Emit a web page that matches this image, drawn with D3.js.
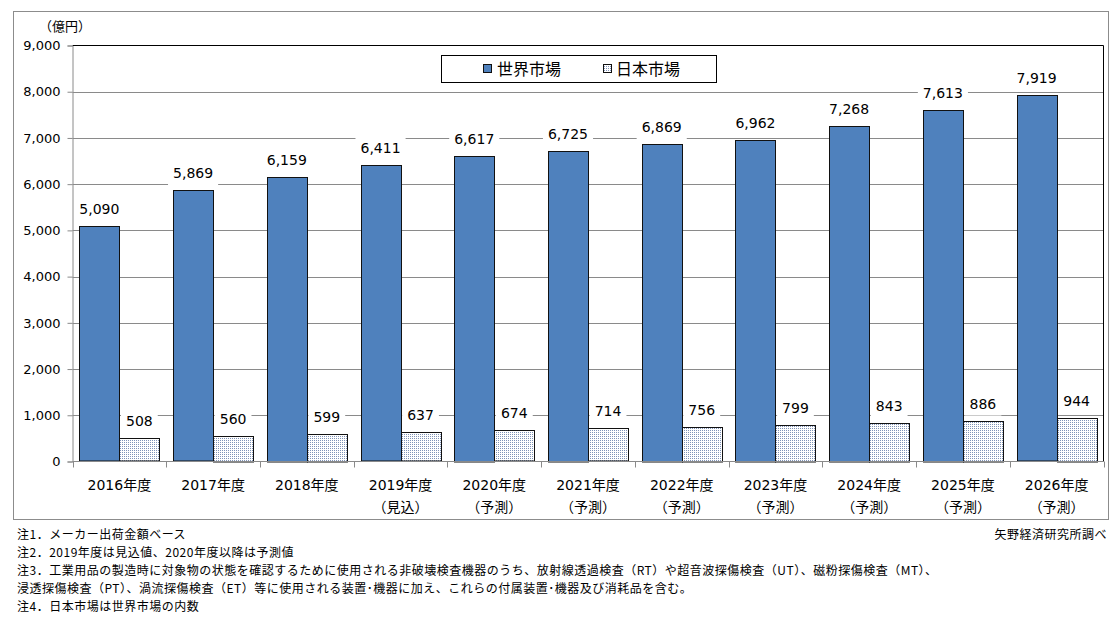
<!DOCTYPE html>
<html><head><meta charset="utf-8">
<script src="https://cdn.jsdelivr.net/npm/d3@7"></script>
<style>
body{margin:0;background:#fff;}
svg{display:block;}
text{font-family:"DejaVu Sans","Noto Sans CJK JP",sans-serif;fill:#000;}
.note{font-family:"Noto Sans CJK JP",sans-serif;font-size:12px;letter-spacing:0.5px;}
</style></head>
<body>
<script>
const categories = ["2016年度","2017年度","2018年度","2019年度","2020年度","2021年度","2022年度","2023年度","2024年度","2025年度","2026年度"];
const subLabels = ["","","","（見込）","（予測）","（予測）","（予測）","（予測）","（予測）","（予測）","（予測）"];
const worldValues = [5090,5869,6159,6411,6617,6725,6869,6962,7268,7613,7919];
const japanValues = [508,560,599,637,674,714,756,799,843,886,944];
const seriesNames = ["世界市場","日本市場"];
const yTicks = [0,1000,2000,3000,4000,5000,6000,7000,8000,9000];
const unitLabel = "（億円）";
const notes = [
  "注1．メーカー出荷金額ベース",
  "注2．2019年度は見込値、2020年度以降は予測値",
  "注3．工業用品の製造時に対象物の状態を確認するために使用される非破壊検査機器のうち、放射線透過検査（RT）や超音波探傷検査（UT）、磁粉探傷検査（MT）、",
  "浸透探傷検査（PT）、渦流探傷検査（ET）等に使用される装置･機器に加え、これらの付属装置･機器及び消耗品を含む。",
  "注4．日本市場は世界市場の内数"
];
const source = "矢野経済研究所調べ";

const W=1119,H=635;
const svg=d3.select("body").append("svg").attr("width",W).attr("height",H);
const defs=svg.append("defs");
const pat=defs.append("pattern").attr("id","dots").attr("width",2).attr("height",2).attr("patternUnits","userSpaceOnUse");
pat.append("rect").attr("width",2).attr("height",2).attr("fill","#ffffff");
pat.append("rect").attr("width",1).attr("height",1).attr("fill","#7f93b8");

// outer border
svg.append("rect").attr("x",13.5).attr("y",11.5).attr("width",1095).attr("height",508)
  .attr("fill","none").attr("stroke","#8c8c8c");

const L=72.5,R=1103.5,T=45.5,B=461.5;
const x=d3.scaleBand().domain(categories).range([L,R]).paddingInner(0.146).paddingOuter(0.073);
const x1=d3.scaleBand().domain(["w","j"]).range([0,x.bandwidth()]);
const y=d3.scaleLinear().domain([0,9000]).range([B,T]);

// gridlines
svg.append("g").selectAll("line").data(yTicks.filter(d=>d>0&&d<9000)).join("line")
  .attr("x1",L).attr("x2",R).attr("y1",d=>Math.round(y(d))+0.5).attr("y2",d=>Math.round(y(d))+0.5)
  .attr("stroke","#8a8a8a");

// label backgrounds layer (below bars, above gridlines)
const labBg=svg.append("g");

// top and right border of plot (black)
svg.append("path").attr("d",`M${L},${T}H${R}V${B}`).attr("fill","none").attr("stroke","#000");

// y axis
const yAxis=svg.append("g").attr("transform",`translate(${L},0)`)
  .call(d3.axisLeft(y).tickValues(yTicks).tickFormat(d3.format(",")).tickSize(5).tickPadding(7));
yAxis.select(".domain").attr("stroke","#8a8a8a");
yAxis.selectAll(".tick line").attr("stroke","#8a8a8a");
yAxis.selectAll("text").attr("font-size","13px").attr("font-family",'"DejaVu Sans",sans-serif').attr("fill","#000");

svg.append("text").attr("x",65).attr("y",31).attr("text-anchor","middle").attr("font-size","13px").text(unitLabel);

// bars
const g=svg.append("g");
categories.forEach((c,i)=>{
  const bx=x(c);
  g.append("rect").attr("x",Math.round(bx+x1("w"))+0.5).attr("y",Math.round(y(worldValues[i]))+0.5)
    .attr("width",Math.round(x1.bandwidth())).attr("height",Math.round(B-y(worldValues[i]))-0.5)
    .attr("fill","#4f81bd").attr("stroke","#111");
  g.append("rect").attr("x",Math.round(bx+x1("j"))+0.5).attr("y",Math.round(y(japanValues[i]))+0.5)
    .attr("width",Math.round(x1.bandwidth())).attr("height",Math.round(B-y(japanValues[i]))-0.5)
    .attr("fill","url(#dots)").attr("stroke","#111");
});

// x axis
svg.append("line").attr("x1",L).attr("x2",R).attr("y1",B).attr("y2",B).attr("stroke","#8a8a8a");
const step=x.step();
d3.range(categories.length+1).forEach(k=>{
  const tx=Math.round(L+k*step)+0.5;
  svg.append("line").attr("x1",tx).attr("x2",tx).attr("y1",B).attr("y2",B+6).attr("stroke","#8a8a8a");
});
categories.forEach((c,i)=>{
  const cx=x(c)+x.bandwidth()/2;
  svg.append("text").attr("x",cx).attr("y",490).attr("text-anchor","middle").attr("font-size","14px").text(c);
  if(subLabels[i]) svg.append("text").attr("x",cx).attr("y",512).attr("text-anchor","middle").attr("font-size","14px").text(subLabels[i]);
});

// value labels
const lab=svg.append("g");
function addLabel(cx,val){
  const t=lab.append("text").attr("x",cx).attr("y",y(val)-12).attr("text-anchor","middle")
    .attr("font-size","14px").attr("font-family",'"DejaVu Sans",sans-serif').text(d3.format(",")(val));
  const bb=t.node().getBBox();
  labBg.append("rect").attr("x",bb.x-5).attr("y",bb.y-4).attr("width",bb.width+10).attr("height",bb.height+8).attr("fill","#fff");
}
categories.forEach((c,i)=>{
  addLabel(x(c)+x1("w")+x1.bandwidth()/2,worldValues[i]);
  addLabel(x(c)+x1("j")+x1.bandwidth()/2,japanValues[i]);
});

// legend
const lg=svg.append("g");
lg.append("rect").attr("x",441.5).attr("y",55.5).attr("width",275).attr("height",27).attr("fill","#fff").attr("stroke","#000");
lg.append("rect").attr("x",483.5).attr("y",64.5).attr("width",8).attr("height",8).attr("fill","#4f81bd").attr("stroke","#111");
lg.append("text").attr("x",497).attr("y",75).attr("font-size","16px").text(seriesNames[0]);
lg.append("rect").attr("x",603.5).attr("y",64.5).attr("width",8).attr("height",8).attr("fill","url(#dots)").attr("stroke","#111");
lg.append("text").attr("x",616).attr("y",75).attr("font-size","16px").text(seriesNames[1]);

// notes
const ny=[539,557,575,593,611];
notes.forEach((n,i)=>{
  svg.append("text").attr("class","note").attr("x",17).attr("y",ny[i]).text(n);
});
svg.append("text").attr("class","note").attr("x",1107).attr("y",539).attr("text-anchor","end").text(source);
</script>
</body></html>
